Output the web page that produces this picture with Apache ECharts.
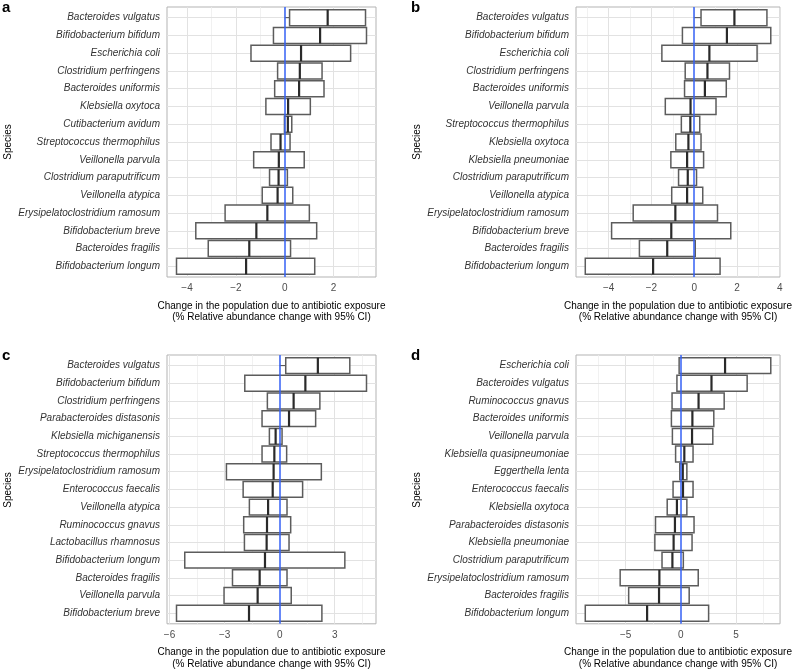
<!DOCTYPE html>
<html>
<head>
<meta charset="utf-8">
<script src="https://cdn.jsdelivr.net/npm/echarts@6/dist/echarts.min.js"></script>
<style>
html,body{margin:0;padding:0;background:#fff;}
#chart{width:794px;height:671px;}
</style>
</head>
<body>
<div id="chart"></div>
<script>
// ---------- Data ----------
const speciesA = ["Bacteroides vulgatus","Bifidobacterium bifidum","Escherichia coli","Clostridium perfringens","Bacteroides uniformis","Klebsiella oxytoca","Cutibacterium avidum","Streptococcus thermophilus","Veillonella parvula","Clostridium paraputrificum","Veillonella atypica","Erysipelatoclostridium ramosum","Bifidobacterium breve","Bacteroides fragilis","Bifidobacterium longum"];
const lowerA = [0.20,-0.46,-1.38,-0.29,-0.41,-0.77,-0.01,-0.56,-1.27,-0.62,-0.92,-2.44,-3.64,-3.13,-4.43];
const meanA  = [1.76,1.45,0.67,0.62,0.59,0.14,0.13,-0.17,-0.24,-0.25,-0.29,-0.71,-1.16,-1.45,-1.58];
const upperA = [3.31,3.35,2.70,1.53,1.61,1.05,0.29,0.22,0.80,0.11,0.33,1.01,1.31,0.24,1.23];
const ticksA = [-4,-2,0,2];
const minorA = [-3,-1,1,3];

const speciesB = ["Bacteroides vulgatus","Bifidobacterium bifidum","Escherichia coli","Clostridium perfringens","Bacteroides uniformis","Veillonella parvula","Streptococcus thermophilus","Klebsiella oxytoca","Klebsiella pneumoniae","Clostridium paraputrificum","Veillonella atypica","Erysipelatoclostridium ramosum","Bifidobacterium breve","Bacteroides fragilis","Bifidobacterium longum"];
const lowerB = [0.32,-0.55,-1.51,-0.42,-0.45,-1.35,-0.60,-0.86,-1.09,-0.73,-1.05,-2.85,-3.86,-2.56,-5.09];
const meanB  = [1.88,1.53,0.71,0.62,0.50,-0.17,-0.18,-0.27,-0.33,-0.30,-0.33,-0.88,-1.07,-1.26,-1.92];
const upperB = [3.40,3.58,2.94,1.65,1.50,1.02,0.26,0.32,0.44,0.11,0.40,1.09,1.71,0.05,1.21];
const ticksB = [-4,-2,0,2,4];
const minorB = [-5,-3,-1,1,3];

const speciesC = ["Bacteroides vulgatus","Bifidobacterium bifidum","Clostridium perfringens","Parabacteroides distasonis","Klebsiella michiganensis","Streptococcus thermophilus","Erysipelatoclostridium ramosum","Enterococcus faecalis","Veillonella atypica","Ruminococcus gnavus","Lactobacillus rhamnosus","Bifidobacterium longum","Bacteroides fragilis","Veillonella parvula","Bifidobacterium breve"];
const lowerC = [0.33,-1.90,-0.67,-0.96,-0.56,-0.96,-2.90,-1.99,-1.65,-1.96,-1.92,-5.17,-2.57,-3.03,-5.62];
const meanC  = [2.08,1.40,0.76,0.51,-0.22,-0.29,-0.33,-0.38,-0.63,-0.69,-0.71,-0.80,-1.09,-1.20,-1.67];
const upperC = [3.82,4.73,2.19,1.96,0.13,0.38,2.27,1.25,0.40,0.60,0.51,3.55,0.40,0.63,2.30];
const ticksC = [-6,-3,0,3];
const minorC = [-4.5,-1.5,1.5,4.5];

const speciesD = ["Escherichia coli","Bacteroides vulgatus","Ruminococcus gnavus","Bacteroides uniformis","Veillonella parvula","Klebsiella quasipneumoniae","Eggerthella lenta","Enterococcus faecalis","Klebsiella oxytoca","Parabacteroides distasonis","Klebsiella pneumoniae","Clostridium paraputrificum","Erysipelatoclostridium ramosum","Bacteroides fragilis","Bifidobacterium longum"];
const lowerD = [-0.15,-0.35,-0.79,-0.85,-0.76,-0.47,-0.09,-0.70,-1.23,-2.29,-2.35,-1.70,-5.49,-4.72,-8.65];
const meanD  = [4.01,2.78,1.61,1.05,1.02,0.32,0.18,0.20,-0.35,-0.53,-0.65,-0.76,-1.94,-1.97,-3.05];
const upperD = [8.15,6.01,3.93,2.99,2.90,1.11,0.55,1.11,0.55,1.20,1.02,0.23,1.58,0.76,2.52];
const ticksD = [-5,0,5];
const minorD = [-7.5,-2.5,2.5,7.5];

const panelLetters = ["a","b","c","d"];
const xTitle = "Change in the population due to antibiotic exposure\n(% Relative abundance change with 95% CI)";
const yTitle = "Species";

// ---------- Build ----------
const FONT = '"Liberation Sans", Arial, Helvetica, sans-serif';
const panels = [
  {sp: speciesA, lo: lowerA, mid: meanA, hi: upperA, ticks: ticksA, minor: minorA, grid: {left:167, top:7, width:209, height:270}},
  {sp: speciesB, lo: lowerB, mid: meanB, hi: upperB, ticks: ticksB, minor: minorB, grid: {left:576, top:7, width:208, height:270}},
  {sp: speciesC, lo: lowerC, mid: meanC, hi: upperC, ticks: ticksC, minor: minorC, grid: {left:167, top:355, width:209, height:270}},
  {sp: speciesD, lo: lowerD, mid: meanD, hi: upperD, ticks: ticksD, minor: minorD, grid: {left:576, top:355, width:208, height:270}}
];

function fmtNum(v){ return String(v).replace('-', '\u2212'); }

function renderItem(params, api){
  const y = api.value(0), lo = api.value(1), mid = api.value(2), hi = api.value(3);
  const pLo = api.coord([lo, y]), pHi = api.coord([hi, y]), pMid = api.coord([mid, y]);
  const h = Math.abs(api.size([0, 0.9])[1]);
  const cy = pLo[1];
  const children = [];
  if (lo > 0) {
    const p0 = api.coord([0, y]);
    children.push({type:'line', shape:{x1:p0[0], y1:cy, x2:pLo[0], y2:cy}, style:{stroke:'#4a4a4a', lineWidth:1}});
  }
  children.push({type:'rect', shape:{x:pLo[0], y:cy-h/2, width:pHi[0]-pLo[0], height:h},
    style:{fill:'#ffffff', stroke:'#5c5c5c', lineWidth:1.5}});
  children.push({type:'line', shape:{x1:pMid[0], y1:cy-h/2, x2:pMid[0], y2:cy+h/2},
    style:{stroke:'#2a2a2a', lineWidth:2.2}});
  return {type:'group', children};
}

const grids = [], xAxes = [], yAxes = [], series = [], graphics = [];
panels.forEach((p, k) => {
  const n = p.sp.length;
  const idx = p.sp.map((_, i) => i);
  const dmin = Math.min(...p.lo), dmax = Math.max(...p.hi);
  const ex = 0.05 * (dmax - dmin);
  grids.push(Object.assign({show:true, borderColor:'#b3b3b3', borderWidth:1, backgroundColor:'transparent', containLabel:false}, p.grid));
  xAxes.push({
    type:'value', gridIndex:k, min: dmin - ex, max: dmax + ex,
    axisLine:{show:false}, splitLine:{show:false},
    axisTick:{show:true, customValues:p.ticks, length:3, lineStyle:{color:'#b3b3b3', width:1}},
    axisLabel:{customValues:p.ticks, formatter:fmtNum, color:'#4d4d4d', fontSize:10, fontFamily:FONT, margin:6},
    name: xTitle, nameLocation:'middle', nameGap:23,
    nameTextStyle:{color:'#000', fontSize:10, fontFamily:FONT, lineHeight:11.6, verticalAlign:'top'}
  });
  yAxes.push({
    type:'value', gridIndex:k, inverse:true, min:-0.6, max:n - 1 + 0.6,
    axisLine:{show:false}, splitLine:{show:false},
    axisTick:{show:true, customValues:idx, length:3, lineStyle:{color:'#b3b3b3', width:1}},
    axisLabel:{customValues:idx, formatter:(v) => p.sp[Math.round(v)] || '', color:'#333', fontSize:10, fontStyle:'italic', fontFamily:FONT, margin:7}
  });
  // grid lines
  const gl = [];
  p.minor.forEach(v => gl.push({xAxis:v, lineStyle:{color:'#eeeeee', width:0.8, type:'solid'}}));
  p.ticks.forEach(v => gl.push({xAxis:v, lineStyle:{color:'#e2e2e2', width:1, type:'solid'}}));
  idx.forEach(i => gl.push({yAxis:i, lineStyle:{color:'#e2e2e2', width:1, type:'solid'}}));
  series.push({
    type:'line', xAxisIndex:k, yAxisIndex:k, data:[], z:1, silent:true,
    markLine:{z:1, silent:true, symbol:['none','none'], label:{show:false}, animation:false, data:gl}
  });
  series.push({
    type:'custom', xAxisIndex:k, yAxisIndex:k, z:3, silent:true,
    renderItem, encode:{x:[1,2,3], y:0},
    data: idx.map(i => [i, p.lo[i], p.mid[i], p.hi[i]])
  });
  series.push({
    type:'line', xAxisIndex:k, yAxisIndex:k, data:[], z:6, silent:true,
    markLine:{z:6, silent:true, symbol:['none','none'], label:{show:false}, animation:false,
      data:[{xAxis:0, lineStyle:{color:'#3560f5', width:1.5, type:'solid'}}]}
  });
  // panel letter and y title
  const g = p.grid;
  graphics.push({type:'text', x:g.left - 165, y:g.top + 1, style:{text:panelLetters[k], fill:'#000', font:'bold 15px ' + FONT, align:'left', verticalAlign:'middle', textAlign:'left', textVerticalAlign:'middle'}});
  graphics.push({type:'text', x:g.left - 158.5, y:g.top + g.height/2, rotation:Math.PI/2,
    style:{text:yTitle, fill:'#000', font:'10px ' + FONT, align:'center', verticalAlign:'middle', textAlign:'center', textVerticalAlign:'middle'}});
});

const chart = echarts.init(document.getElementById('chart'), null, {renderer:'canvas'});
chart.setOption({
  animation:false,
  backgroundColor:'#ffffff',
  grid: grids, xAxis: xAxes, yAxis: yAxes, series, graphic: graphics
});
</script>
</body>
</html>
